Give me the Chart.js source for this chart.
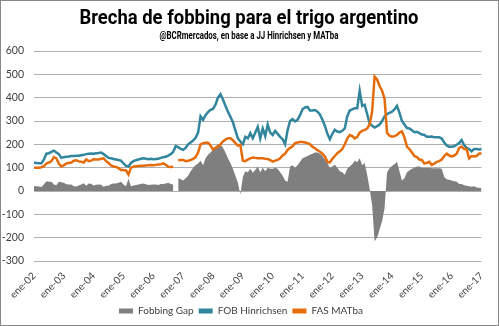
<!DOCTYPE html>
<html>
<head>
<meta charset="utf-8">
<script src="https://cdn.jsdelivr.net/npm/chart.js@4.4.1/dist/chart.umd.min.js"></script>
<style>
  html, body { margin: 0; padding: 0; background: #fff; }
  #wrap { width: 499px; height: 326px; position: relative; }
</style>
</head>
<body>
<div id="wrap"><canvas id="chart"></canvas></div>
<script>
const titleText = 'Brecha de fobbing para el trigo argentino';
const subtitleText = '@BCRmercados, en base a JJ Hinrichsen y MATba';

// month names and years used for the category labels (ene-02 ... ene-17)
const months = ['ene', 'feb', 'mar', 'abr', 'may', 'jun', 'jul', 'ago', 'sep', 'oct', 'nov', 'dic'];
const years = [2002, 2003, 2004, 2005, 2006, 2007, 2008, 2009, 2010, 2011, 2012, 2013, 2014, 2015, 2016, 2017];

// monthly values, jan-2002 to jan-2017 (USD/t)
const fobHinrichsen = [
  121, 120, 119, 119, 135, 160, 162, 168, 173, 165, 158, 142,
  145, 147, 148, 150, 150, 151, 151, 153, 155, 158, 160, 161,
  160, 162, 163, 165, 158, 150, 142, 140, 137, 135, 133, 130,
  118, 108, 105, 120, 128, 132, 135, 138, 140, 138, 136, 138,
  136, 137, 138, 142, 145, 147, 152, 158, 168, 192, 188, 180,
  176, 185, 200, 208, 216, 228, 250, 320, 305, 325, 338, 348,
  352, 370, 400, 415, 392, 365, 340, 318, 295, 260, 226, 212,
  200, 232, 226, 248, 226, 250, 275, 225, 268, 235, 285, 250,
  240, 258, 245, 232, 222, 200, 260, 300, 308, 298, 305, 325,
  350, 358, 360, 345, 345, 347, 340, 328, 305, 280, 245, 222,
  245, 262, 255, 252, 258, 268, 320, 345, 350, 355, 355, 430,
  365, 370, 330, 290, 280, 272, 278, 285, 300, 320, 330, 335,
  340, 350, 365, 335, 300, 285, 270, 268, 260, 252, 254, 248,
  242, 240, 232, 232, 233, 230, 230, 230, 225, 208, 195, 190,
  190, 192, 198, 205, 218, 197, 185, 180, 170, 180, 180, 178,
  180
];

const fasMatba = [
  100, 100, 100, 102, 106, 118, 122, 128, 145, 140, 118, 105,
  110, 118, 120, 122, 130, 132, 127, 125, 122, 135, 128, 130,
  136, 135, 135, 138, 140, 128, 120, 110, 105, 103, 98, 90,
  90, 88, 70, 100, 104, 106, 107, 108, 108, 109, 110, 111,
  110, 112, 114, 115, 118, 112, 104, 103, 104, null, 132, 133,
  133, 128, 130, 133, 138, 145, 165, 200, 205, 207, 207, 195,
  178, 185, 190, 200, 212, 220, 226, 226, 218, 205, 195, 198,
  130, 128, 135, 140, 143, 142, 140, 140, 140, 138, 137, 132,
  126, 130, 133, 140, 152, 160, 176, 185, 192, 205, 208, 210,
  210, 208, 205, 200, 190, 183, 175, 168, 160, 148, 125, 122,
  138, 150, 162, 170, 180, 200, 225, 240, 235, 225, 232, 250,
  258, 262, 268, 285, 340, 490, 478, 450, 430, 395, 250, 237,
  233, 235, 240, 250, 255, 230, 190, 180, 165, 150, 145, 135,
  133, 118, 120, 125, 112, 117, 125, 128, 135, 150, 160, 152,
  148, 152, 160, 185, 190, 180, 180, 140, 150, 148, 150, 160,
  162
];

const fobbingGap = [
  21, 20, 19, 17, 29, 42, 40, 40, 28, 25, 40, 37,
  35, 29, 28, 28, 20, 19, 24, 28, 33, 23, 32, 31,
  24, 27, 28, 27, 18, 22, 22, 30, 32, 32, 35, 40,
  28, 20, 52, 20, 24, 26, 28, 30, 32, 29, 26, 27,
  28, 28, 26, 30, 30, 32, 35, 30, 28, null, 55, 50,
  45, 55, 65, 85, 100, 110, 118, 130, 110, 140, 155, 165,
  178, 190, 200, 200, 185, 165, 140, 120, 95, 65, 35, -15,
  60, 85, 80, 95, 78, 90, 105, 80, 100, 85, 100, 95,
  95, 100, 95, 80, 65, 45, 40, 105, 110, 100, 110, 125,
  140, 145, 150, 155, 160, 165, 165, 160, 150, 135, 120, 100,
  105, 112, 100, 85, 80, 70, 95, 105, 115, 130, 123, 140,
  110, 120, 70, 10, -60, -215, -200, -165, -130, -75, 80, 98,
  107, 115, 125, 85, 45, 55, 80, 88, 95, 100, 105, 105,
  100, 100, 100, 100, 98, 98, 98, 97, 95, 60, 50, 48,
  45, 42, 40, 30, 30, 25, 22, 20, 18, 20, 15, 14,
  12
];

// build "ene-02" style labels
const labels = [];
years.forEach(y => {
  months.forEach(m => {
    if (labels.length < fobHinrichsen.length) labels.push(m + '-' + String(y).slice(2));
  });
});

// the original header uses a condensed bold face, so squeeze the text horizontally
function drawSqueezed(ctx, text, font, cx, baseline, width) {
  ctx.save();
  ctx.font = font;
  ctx.fillStyle = '#000';
  ctx.textAlign = 'center';
  ctx.textBaseline = 'alphabetic';
  const k = Math.min(1, width / ctx.measureText(text).width);
  ctx.translate(cx, baseline);
  ctx.scale(k, 1);
  ctx.fillText(text, 0, 0);
  ctx.restore();
}

const header = {
  id: 'header',
  afterDraw(chart) {
    const ctx = chart.ctx;
    drawSqueezed(ctx, titleText, 'bold 20px Roboto', 249, 24, 339);
    drawSqueezed(ctx, subtitleText, 'bold 10px Roboto', 249, 39, 179);
    // outer frame
    ctx.save();
    ctx.strokeStyle = '#888';
    ctx.lineWidth = 1;
    ctx.strokeRect(0.5, 0.5, chart.width - 1, chart.height - 1);
    ctx.restore();
  }
};

const tickFont = { family: 'Lato, "Liberation Sans", sans-serif', size: 10.5 };

new Chart(document.getElementById('chart'), {
  type: 'line',
  data: {
    labels: labels,
    datasets: [
      {
        label: 'Fobbing Gap',
        data: fobbingGap,
        fill: 'origin',
        backgroundColor: '#7f7f7f',
        borderColor: '#7f7f7f',
        borderWidth: 0,
        pointRadius: 0,
        spanGaps: false,
        order: 3
      },
      {
        label: 'FOB Hinrichsen',
        data: fobHinrichsen,
        fill: false,
        borderColor: '#31859c',
        backgroundColor: '#31859c',
        borderWidth: 2.5,
        pointRadius: 0,
        order: 2
      },
      {
        label: 'FAS MATba',
        data: fasMatba,
        fill: false,
        borderColor: '#e46c0a',
        backgroundColor: '#e46c0a',
        borderWidth: 2.5,
        pointRadius: 0,
        spanGaps: false,
        order: 1
      }
    ]
  },
  options: {
    responsive: true,
    maintainAspectRatio: false,
    animation: false,
    layout: { padding: { left: 0, right: 17, top: 51, bottom: 0 } },
    plugins: {
      title: { display: false },
      legend: {
        position: 'bottom',
        labels: {
          color: '#404040',
          font: { family: 'Lato, "Liberation Sans", sans-serif', size: 10 },
          boxWidth: 14,
          boxHeight: 5,
          padding: 5,
          generateLabels(chart) {
            const items = Chart.defaults.plugins.legend.labels.generateLabels(chart);
            items.forEach(i => { i.lineWidth = 0; });
            return items.sort((a, b) => a.datasetIndex - b.datasetIndex);
          }
        }
      },
      tooltip: { enabled: false }
    },
    scales: {
      x: {
        afterFit(scale) { scale.height = 40; },
        grid: { display: false, drawTicks: false },
        border: { display: false },
        ticks: {
          autoSkip: false,
          maxRotation: 45,
          minRotation: 45,
          color: '#404040',
          font: { family: 'Lato, "Liberation Sans", sans-serif', size: 10 },
          padding: 9,
          callback(val, i) {
            return i % 12 === 0 ? this.getLabelForValue(val) : null;
          }
        }
      },
      y: {
        min: -300,
        max: 600,
        afterFit(scale) { scale.width = 34; },
        grid: { color: '#b0b0b0', drawTicks: false },
        border: { display: false },
        ticks: {
          stepSize: 100,
          color: '#404040',
          font: tickFont,
          padding: 10
        }
      }
    }
  },
  plugins: [header]
});
</script>
</body>
</html>
